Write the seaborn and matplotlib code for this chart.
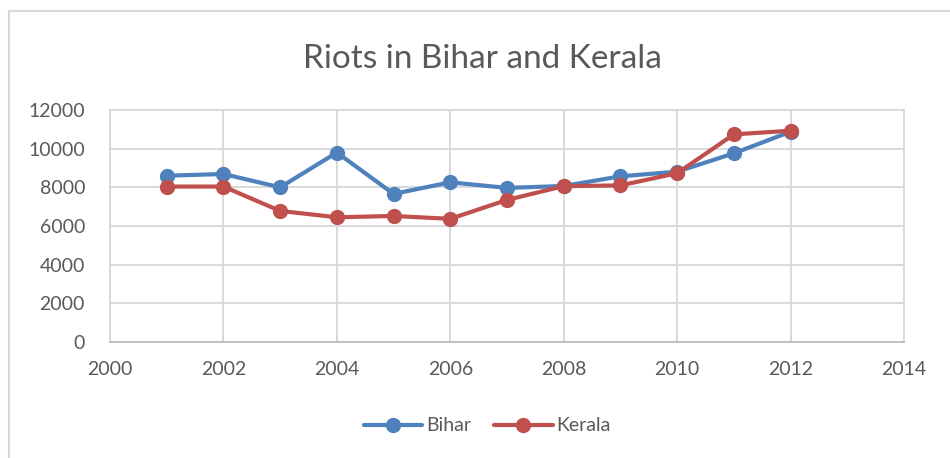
import numpy as np
import pandas as pd
import matplotlib
matplotlib.use("Agg")
import matplotlib.pyplot as plt
import matplotlib.patches as patches
import seaborn as sns

# values
years = [2001, 2002, 2003, 2004, 2005, 2006, 2007, 2008, 2009, 2010, 2011, 2012]
bihar = [8600, 8690, 8000, 9800, 7660, 8260, 7970, 8070, 8570, 8810, 9760, 10880]
kerala = [8040, 8040, 6780, 6450, 6520, 6370, 7350, 8060, 8100, 8730, 10740, 10930]
series_names = ["Bihar", "Kerala"]
x_ticks = [2000, 2002, 2004, 2006, 2008, 2010, 2012, 2014]
y_ticks = [0, 2000, 4000, 6000, 8000, 10000, 12000]

df = pd.DataFrame({
    "year": years * 2,
    "riots": bihar + kerala,
    "state": [series_names[0]] * len(years) + [series_names[1]] * len(years),
})

sns.set_style("white")
plt.rcParams["font.family"] = ["Lato", "DejaVu Sans"]

text_gray = "#595959"
grid_gray = "#D9D9D9"
palette = {"Bihar": "#4F81BD", "Kerala": "#C0504D"}

fig = plt.figure(figsize=(9.5, 4.58), dpi=100)
ax = fig.add_axes([0.1158, 0.2533, 0.8358, 0.5065])

sns.lineplot(data=df, x="year", y="riots", hue="state", palette=palette,
             marker="o", markersize=11, markeredgewidth=0, linewidth=3,
             ax=ax, legend=False)

ax.set_xlim(2000, 2014)
ax.set_ylim(0, 12000)
ax.set_xticks(x_ticks)
ax.set_yticks(y_ticks)
ax.set_xticklabels([str(t) for t in x_ticks])
ax.set_yticklabels([str(t) for t in y_ticks])
ax.tick_params(axis="both", length=0, labelsize=14, colors=text_gray)
ax.tick_params(axis="y", pad=18)
ax.tick_params(axis="x", pad=14)
ax.set_xlabel("")
ax.set_ylabel("")
ax.grid(True, color=grid_gray, linewidth=1.4)
ax.set_axisbelow(True)
for side in ["left", "right", "top"]:
    ax.spines[side].set_color(grid_gray)
    ax.spines[side].set_linewidth(1.4)
ax.spines["bottom"].set_color("#BFBFBF")
ax.spines["bottom"].set_linewidth(1.4)

fig.text(0.508, 0.872, "Riots in Bihar and Kerala", ha="center", va="center",
         fontsize=24, color=text_gray)

handles = [plt.Line2D([], [], color=palette[n], linewidth=3, marker="o",
                      markersize=11, markeredgewidth=0) for n in series_names]
fig.legend(handles, series_names, loc="center", bbox_to_anchor=(0.513, 0.07),
           ncol=2, frameon=False, fontsize=14, labelcolor=text_gray,
           handlelength=3.0, handletextpad=0.2, columnspacing=1.2)

# outer chart border, cut off at the right and bottom edges
fig.patches.append(patches.Rectangle((9 / 950, -0.1), 1.1, 0.1 + (458 - 11) / 458,
                                     transform=fig.transFigure, fill=False,
                                     edgecolor="#D9D9D9", linewidth=1.5))

fig.savefig("out.png", dpi=100)
